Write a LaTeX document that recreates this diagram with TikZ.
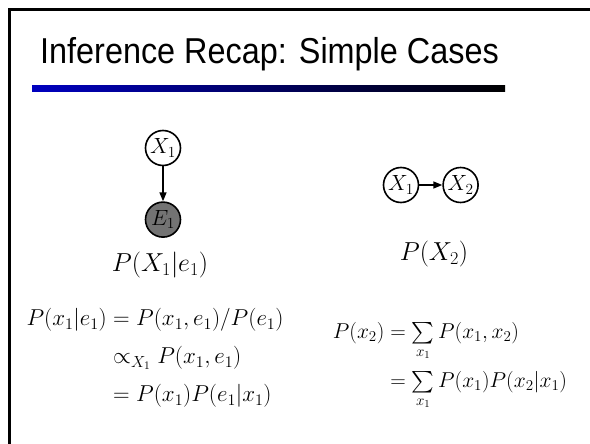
\RequirePackage{fix-cm}
\documentclass[tikz,border=0pt]{standalone}
\usepackage{amsmath,amssymb}
\usepackage{fontspec}
\newfontfamily\titlefont{Liberation Sans}
\usepackage{tikz}
\usetikzlibrary{arrows.meta,positioning}
\definecolor{barblue}{rgb}{0.00,0.00,0.75}
\definecolor{obsgray}{gray}{0.45}
\tikzset{
  varnode/.style={circle, draw, line width=1.6pt, minimum size=35pt,
                  inner sep=0pt, font=\fontsize{22}{24}\selectfont},
  obsnode/.style={varnode, fill=obsgray},
  edgearr/.style={-{Triangle[length=9pt,width=7pt]}, line width=1.5pt},
  probtext/.style={font=\fontsize{26}{30}\selectfont},
  eqtext/.style={font=\fontsize{23}{28}\selectfont, inner sep=0pt},
  sumtext/.style={font=\fontsize{21.5}{26}\selectfont, inner sep=0pt}
}

\begin{document}
\begin{tikzpicture}[x=1pt, y=-1pt, node distance=35pt]
    \useasboundingbox (0,0) rectangle (590,444);
    \draw[line width=2.7pt] (9.7,444) -- (9.7,9.5) -- (590,9.5);
    \node[anchor=base west, inner sep=0pt, xscale=0.9,
          font=\titlefont\fontsize{36}{40}\selectfont] (title) at (40,64)
      {Inference Recap: Simple Cases};
    \shade[left color=barblue, right color=black] (32,86) rectangle (505,92);

    \node[varnode] (xa) at (163,148) {$X_1$};
    \node[obsnode, below=of xa] (ea) {$E_1$};
    \draw[edgearr] (xa) -- (ea);
    \node[probtext] (pa) at (160,265) {$P(X_1|e_1)$};

    \node[varnode] (xb) at (401,185) {$X_1$};
    \node[varnode, right=23pt of xb] (xc) {$X_2$};
    \draw[edgearr] (xb) -- (xc);
    \node[probtext] (pb) at (434,254) {$P(X_2)$};

    \node[eqtext] (eqa) at (155,358)
      {$\begin{aligned} P(x_1|e_1) &= P(x_1,e_1)/P(e_1)\\[7pt]
        &\propto_{X_1} P(x_1,e_1)\\[7pt]
        &= P(x_1)P(e_1|x_1)\end{aligned}$};
    \node[sumtext] (eqb) at (450,365)
      {$\begin{aligned} P(x_2) &= {\textstyle\sum\limits_{x_1}}\, P(x_1,x_2)\\[4pt]
        &= {\textstyle\sum\limits_{x_1}}\, P(x_1)P(x_2|x_1)\end{aligned}$};
\end{tikzpicture}
\end{document}
